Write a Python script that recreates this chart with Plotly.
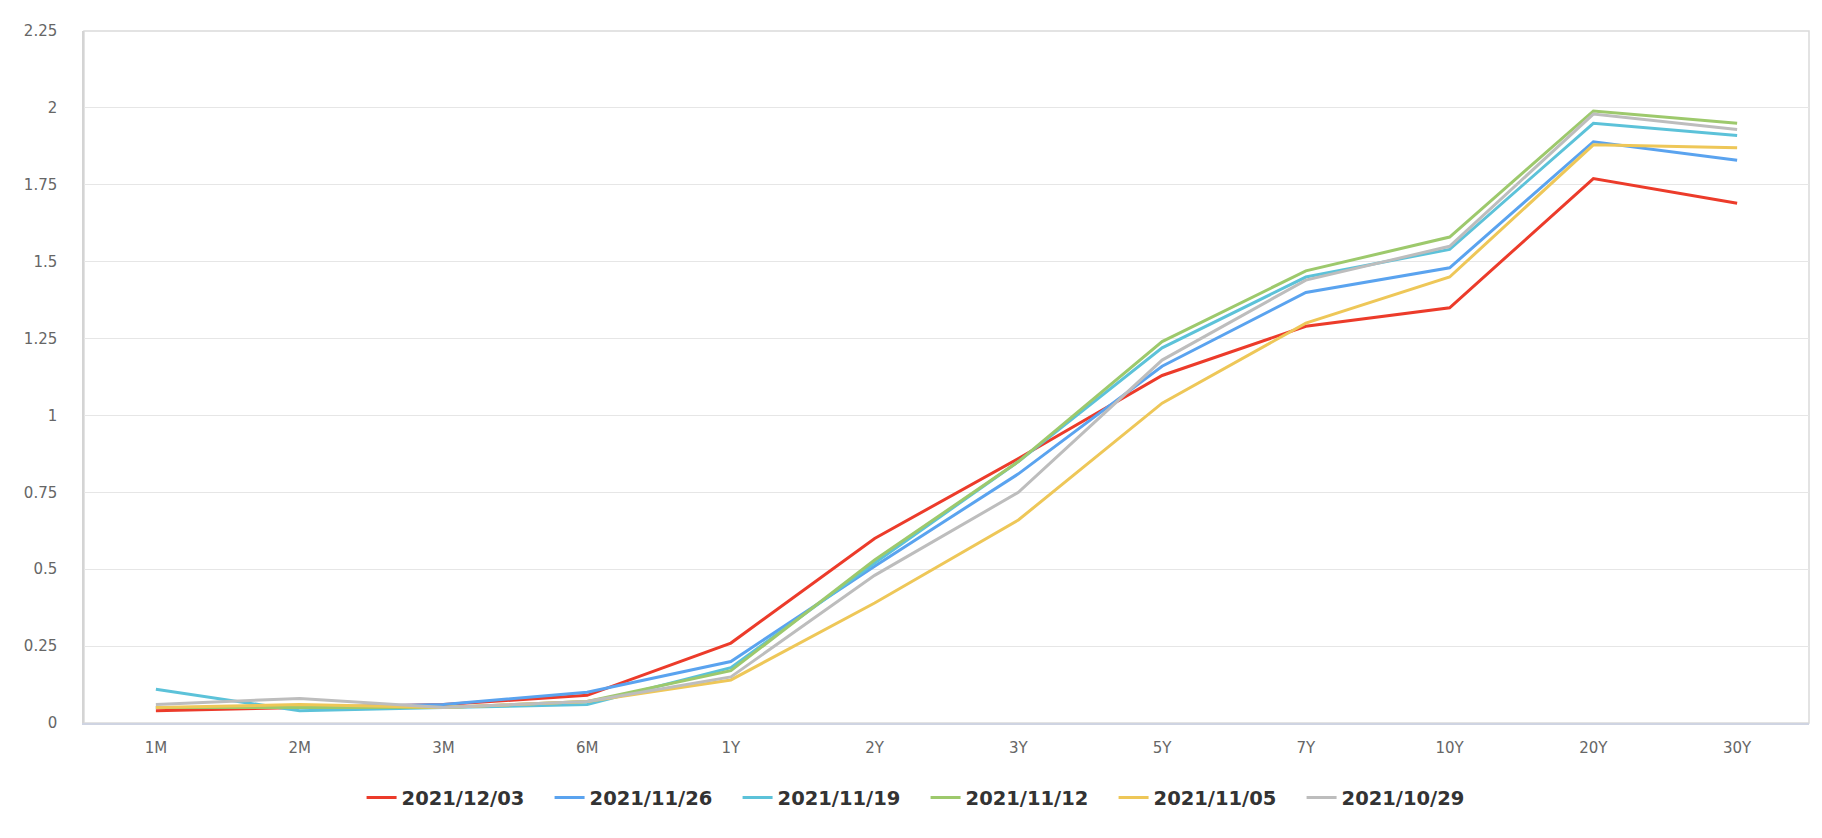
import plotly.graph_objects as go

categories = ["1M", "2M", "3M", "6M", "1Y", "2Y", "3Y", "5Y", "7Y", "10Y", "20Y", "30Y"]

s_20211203 = [0.04, 0.05, 0.06, 0.09, 0.26, 0.60, 0.86, 1.13, 1.29, 1.35, 1.77, 1.69]
s_20211126 = [0.05, 0.05, 0.06, 0.10, 0.20, 0.51, 0.81, 1.16, 1.40, 1.48, 1.89, 1.83]
s_20211119 = [0.11, 0.04, 0.05, 0.06, 0.18, 0.52, 0.85, 1.22, 1.45, 1.54, 1.95, 1.91]
s_20211112 = [0.05, 0.05, 0.05, 0.07, 0.17, 0.53, 0.85, 1.24, 1.47, 1.58, 1.99, 1.95]
s_20211105 = [0.05, 0.06, 0.05, 0.07, 0.14, 0.39, 0.66, 1.04, 1.30, 1.45, 1.88, 1.87]
s_20211029 = [0.06, 0.08, 0.05, 0.07, 0.15, 0.48, 0.75, 1.18, 1.44, 1.55, 1.98, 1.93]

series_names = ["2021/12/03", "2021/11/26", "2021/11/19", "2021/11/12", "2021/11/05", "2021/10/29"]
series_values = [s_20211203, s_20211126, s_20211119, s_20211112, s_20211105, s_20211029]
colors = ["#EC3B2A", "#5AA3EF", "#5CC2D9", "#9DC96C", "#EEC758", "#BDBDBD"]

y_tickvals = [0, 0.25, 0.5, 0.75, 1, 1.25, 1.5, 1.75, 2, 2.25]
y_ticktext = ["0", "0.25", "0.5", "0.75", "1", "1.25", "1.5", "1.75", "2", "2.25"]

fig = go.Figure()
for name, vals, col in zip(series_names, series_values, colors):
    fig.add_trace(go.Scatter(
        x=categories, y=vals, name=name, mode="lines",
        line=dict(color=col, width=3),
    ))

fig.update_layout(
    width=1822, height=838,
    margin=dict(l=84, r=13, t=31, b=115),
    paper_bgcolor="white", plot_bgcolor="white",
    font=dict(family="DejaVu Sans", color="#666666"),
    showlegend=True,
    legend=dict(
        orientation="h", xref="container", yref="container",
        x=0.508, xanchor="center", y=0.048, yanchor="middle",
        font=dict(family="DejaVu Sans", size=19.5, color="#333333", weight="bold"),
        itemwidth=30, tracegroupgap=0,
        entrywidth=143, entrywidthmode="pixels",
    ),
    xaxis=dict(
        type="category", range=[-0.5, 11.5],
        showgrid=False, zeroline=False,
        showline=True, linecolor="#CFD4E2", linewidth=2,
        ticks="", ticklabelstandoff=10,
        tickfont=dict(size=15, color="#666666"),
    ),
    yaxis=dict(
        range=[0, 2.25], tickvals=y_tickvals, ticktext=y_ticktext,
        showgrid=True, gridcolor="#E6E6E6", gridwidth=1,
        zeroline=False, showline=True, linecolor="#D4D4D4", linewidth=1.5,
        ticks="", ticklabelstandoff=22,
        tickfont=dict(size=15, color="#666666"),
    ),
    shapes=[dict(type="rect", xref="paper", yref="paper", x0=0, x1=1, y0=0, y1=1,
                 line=dict(color="#DADADA", width=1.5), layer="below")],
)

fig.write_html("out.html")
